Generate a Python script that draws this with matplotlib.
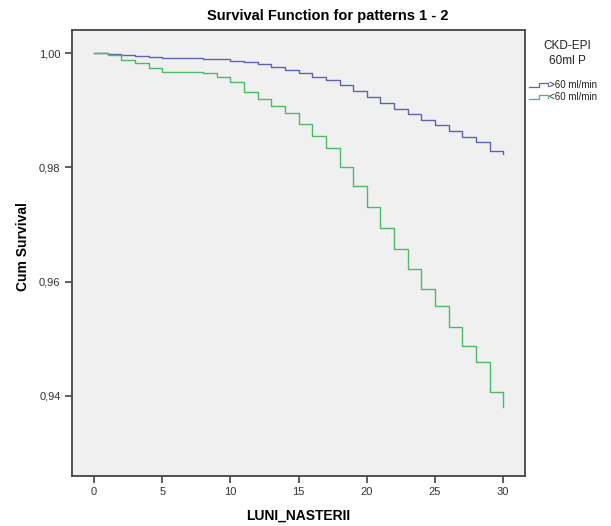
import matplotlib

matplotlib.use("Agg")
import matplotlib.pyplot as plt
import numpy as np
from matplotlib.lines import Line2D

plt.rcParams["font.family"] = ["Liberation Sans", "DejaVu Sans"]

# months since birth (step times) and cumulative survival per group
months = np.arange(0, 31)

surv_over60 = [
    1.0, 0.99988, 0.99970, 0.99953, 0.99940, 0.99923, 0.99918, 0.99912,
    0.99905, 0.99900, 0.99870, 0.99842, 0.99807, 0.99765, 0.99707, 0.99650,
    0.99590, 0.99532, 0.99445, 0.99339, 0.99240, 0.99134, 0.99024, 0.98931,
    0.98831, 0.98741, 0.98642, 0.98539, 0.98451, 0.98293, 0.98236,
]
surv_under60 = [
    1.0, 0.99970, 0.99883, 0.99825, 0.99737, 0.99678, 0.99678, 0.99678,
    0.99650, 0.99590, 0.99502, 0.99327, 0.99194, 0.99077, 0.98949, 0.98756,
    0.98551, 0.98335, 0.98013, 0.97680, 0.97312, 0.96934, 0.96571, 0.96215,
    0.95865, 0.95577, 0.95209, 0.94876, 0.94596, 0.94065, 0.93797,
]

group_labels = [">60 ml/min", "<60 ml/min"]
group_colors = ["#5d62b5", "#4fb869"]
x_ticks = [0, 5, 10, 15, 20, 25, 30]
y_ticks = [0.94, 0.96, 0.98, 1.00]

W, H = 611, 526
fig = plt.figure(figsize=(W / 100, H / 100), dpi=100)
ax = fig.add_axes([71.7 / W, 1 - 476 / H, (525 - 71.7) / W, (476 - 30) / H])
ax.set_facecolor("#f0f0f0")

for ys, col in zip([surv_over60, surv_under60], group_colors):
    ax.step(months, ys, where="post", color=col, linewidth=1.0)

ax.set_xlim(-1.64, 31.6)
ax.set_ylim(0.9259, 1.0041)
ax.set_xticks(x_ticks)
ax.set_yticks(y_ticks)
ax.set_yticklabels([f"{v:.2f}".replace(".", ",") for v in y_ticks])

for sp in ax.spines.values():
    sp.set_color("#444444")
    sp.set_linewidth(1.3)
ax.tick_params(axis="both", direction="out", length=5, width=1.2, color="#444444",
               labelsize=8, labelcolor="#333333", pad=3)

ax.set_xlabel("LUNI_NASTERII", fontsize=10, fontweight="bold", labelpad=8)
ax.set_ylabel("Cum Survival", fontsize=10, fontweight="bold")
ax.yaxis.set_label_coords(-0.092, 0.5146)

fig.text(328 / W, 1 - 16 / H, "Survival Function for patterns 1 - 2",
         ha="center", va="center", fontsize=10.5, fontweight="bold")

# legend block on the right
fig.text(567 / W, 1 - 46 / H, "CKD-EPI", ha="center", va="center", fontsize=8.5, color="#222222")
fig.text(567 / W, 1 - 61 / H, "60ml P", ha="center", va="center", fontsize=8.5, color="#222222")
for i, (lab, col) in enumerate(zip(group_labels, group_colors)):
    yc = 85 + i * 12
    xs = np.array([529, 539, 539, 548, 548]) / W
    ys = 1 - np.array([yc + 2, yc + 2, yc - 2, yc - 2, yc + 1]) / H
    fig.add_artist(Line2D(xs, ys, color=col, linewidth=0.9, transform=fig.transFigure))
    fig.text(549 / W, 1 - yc / H, lab, ha="left", va="center", fontsize=7, color="#222222")

fig.savefig("out.png", dpi=100)
